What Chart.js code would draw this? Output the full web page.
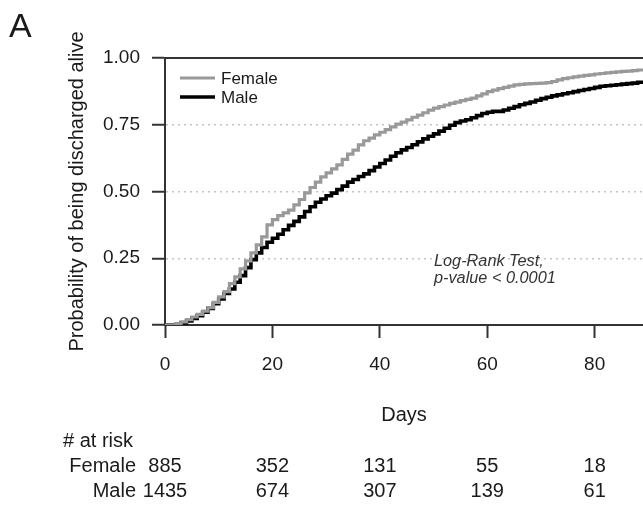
<!DOCTYPE html>
<html>
<head>
<meta charset="utf-8">
<script src="https://cdn.jsdelivr.net/npm/chart.js@4.4.0/dist/chart.umd.min.js"></script>
<style>
  html, body { margin: 0; padding: 0; background: #fff; }
  #wrap { width: 643px; height: 506px; }
</style>
</head>
<body>
<div id="wrap"><canvas id="kmChart" width="643" height="506"></canvas></div>
<script>
// days since admission
const days = [0,1,2,3,4,5,6,7,8,9,10,11,12,13,14,15,16,17,18,19,20,21,22,23,24,25,26,27,28,29,
  30,31,32,33,34,35,36,37,38,39,40,41,42,43,44,45,46,47,48,49,50,51,52,53,54,55,56,57,58,59,
  60,61,62,63,64,65,66,67,68,69,70,71,72,73,74,75,76,77,78,79,80,81,82,83,84,85,86,87,88,89];

// probability of being discharged alive
const female = [0,0,0.005,0.012,0.02,0.03,0.04,0.052,0.065,0.085,0.105,0.125,0.155,0.18,0.21,0.24,0.27,0.30,0.33,0.375,
  0.395,0.41,0.42,0.43,0.45,0.47,0.495,0.515,0.535,0.555,0.57,0.585,0.60,0.62,0.64,0.655,0.675,0.69,0.70,0.712,
  0.722,0.732,0.742,0.752,0.76,0.768,0.778,0.786,0.795,0.805,0.812,0.818,0.824,0.83,0.835,0.84,0.845,0.85,0.858,0.866,
  0.874,0.88,0.885,0.89,0.895,0.899,0.901,0.903,0.904,0.905,0.906,0.908,0.912,0.918,0.923,0.926,0.929,0.932,0.935,0.937,
  0.94,0.942,0.944,0.946,0.948,0.95,0.951,0.953,0.955,0.957];
const male = [0,0,0.002,0.008,0.015,0.025,0.035,0.048,0.062,0.08,0.098,0.118,0.135,0.16,0.185,0.215,0.245,0.27,0.29,0.31,
  0.325,0.34,0.357,0.373,0.388,0.405,0.425,0.443,0.46,0.472,0.484,0.494,0.507,0.52,0.535,0.545,0.556,0.566,0.578,0.592,
  0.605,0.618,0.632,0.645,0.656,0.665,0.675,0.686,0.697,0.707,0.716,0.726,0.737,0.748,0.758,0.764,0.769,0.776,0.784,0.792,
  0.797,0.8,0.8,0.805,0.812,0.818,0.825,0.83,0.835,0.842,0.848,0.853,0.858,0.862,0.866,0.87,0.874,0.878,0.882,0.886,
  0.89,0.894,0.896,0.898,0.9,0.902,0.904,0.906,0.909,0.913];

const xTicks = [0, 20, 40, 60, 80];
const yTicks = [0, 0.25, 0.5, 0.75, 1];
const yTickLabels = ['0.00', '0.25', '0.50', '0.75', '1.00'];

// numbers at risk at each x tick
const riskGroups = ['Female', 'Male'];
const femaleRisk = [885, 352, 131, 55, 18];
const maleRisk = [1435, 674, 307, 139, 61];

const FONT = '"Liberation Sans", Arial, Helvetica, sans-serif';
const AXIS = '#333333';
const TEXT = '#1a1a1a';

const extras = {
  id: 'extras',
  afterDraw(chart) {
    const ctx = chart.ctx;
    const x = chart.scales.x;
    ctx.save();
    ctx.fillStyle = TEXT;

    // panel letter
    ctx.font = '34px ' + FONT;
    ctx.textAlign = 'left';
    ctx.textBaseline = 'alphabetic';
    ctx.fillText('A', 9, 37);

    // legend
    chart.data.datasets.forEach((ds, i) => {
      const ly = 78 + i * 19;
      ctx.strokeStyle = ds.borderColor;
      ctx.lineWidth = ds.borderWidth;
      ctx.beginPath();
      ctx.moveTo(180, ly);
      ctx.lineTo(215, ly);
      ctx.stroke();
      ctx.font = '17px ' + FONT;
      ctx.textBaseline = 'middle';
      ctx.fillText(ds.label, 221, ly + 1);
    });

    // test annotation
    ctx.font = 'italic 16.3px ' + FONT;
    ctx.fillStyle = '#333';
    ctx.textBaseline = 'alphabetic';
    ctx.fillText('Log-Rank Test,', 434, 266);
    ctx.fillText('p-value < 0.0001', 434, 283);

    // risk table
    ctx.fillStyle = TEXT;
    ctx.font = '20px ' + FONT;
    ctx.textAlign = 'left';
    ctx.fillText('# at risk', 63, 447);
    const rows = [femaleRisk, maleRisk];
    rows.forEach((vals, r) => {
      const by = 472 + r * 25;
      ctx.textAlign = 'right';
      ctx.fillText(riskGroups[r], 136, by);
      ctx.textAlign = 'center';
      vals.forEach((v, i) => {
        ctx.fillText(String(v), x.getPixelForValue(xTicks[i]), by);
      });
    });
    ctx.restore();
  }
};

new Chart('kmChart', {
  type: 'line',
  data: {
    datasets: [{
      label: 'Female',
      data: days.map((d, i) => ({x: d, y: female[i]})),
      borderColor: '#999999',
      borderWidth: 3.2,
      stepped: true,
      pointRadius: 0,
      fill: false
    }, {
      label: 'Male',
      data: days.map((d, i) => ({x: d, y: male[i]})),
      borderColor: '#000000',
      borderWidth: 3.6,
      stepped: true,
      pointRadius: 0,
      fill: false
    }]
  },
  options: {
    responsive: false,
    animation: false,
    devicePixelRatio: 1,
    layout: { padding: { top: 58, left: 0, right: 0, bottom: 0 } },
    plugins: {
      legend: { display: false },
      tooltip: { enabled: false }
    },
    scales: {
      x: {
        type: 'linear',
        position: 'bottom',
        min: 0,
        max: 89,
        afterBuildTicks: (s) => { s.ticks = xTicks.map(v => ({value: v})); },
        afterFit: (s) => { s.height = 181; },
        grid: { drawOnChartArea: false, drawTicks: true, tickLength: 13, tickColor: AXIS, tickWidth: 2 },
        border: { display: true, color: AXIS, width: 2 },
        ticks: { color: TEXT, font: { family: FONT, size: 19 }, padding: 15, maxRotation: 0 },
        title: { display: true, text: 'Days', color: TEXT, font: { family: FONT, size: 20 }, padding: { top: 0, bottom: 79 } }
      },
      x2: {
        type: 'linear',
        position: 'top',
        min: 0,
        max: 89,
        afterFit: (s) => { s.height = 0; },
        grid: { drawOnChartArea: false, drawTicks: false },
        border: { display: true, color: AXIS, width: 2 },
        ticks: { display: false }
      },
      y: {
        min: 0,
        max: 1,
        afterBuildTicks: (s) => { s.ticks = yTicks.map(v => ({value: v})); },
        afterFit: (s) => { s.width = 165; },
        grid: {
          color: (c) => (c.tick && (c.tick.value === 0 || c.tick.value === 1)) ? 'rgba(0,0,0,0)' : '#c4c4c4',
          lineWidth: 1.5,
          tickColor: AXIS,
          tickWidth: 2,
          tickLength: 13,
          tickBorderDash: []
        },
        border: { display: true, color: AXIS, width: 2, dash: [2, 4] },
        ticks: {
          color: TEXT,
          font: { family: FONT, size: 19 },
          padding: 12,
          callback: (v) => yTickLabels[yTicks.indexOf(v)]
        },
        title: { display: true, text: 'Probability of being discharged alive', color: TEXT, font: { family: FONT, size: 20 }, padding: { top: 65, bottom: 0 } }
      }
    }
  },
  plugins: [extras]
});
</script>
</body>
</html>
